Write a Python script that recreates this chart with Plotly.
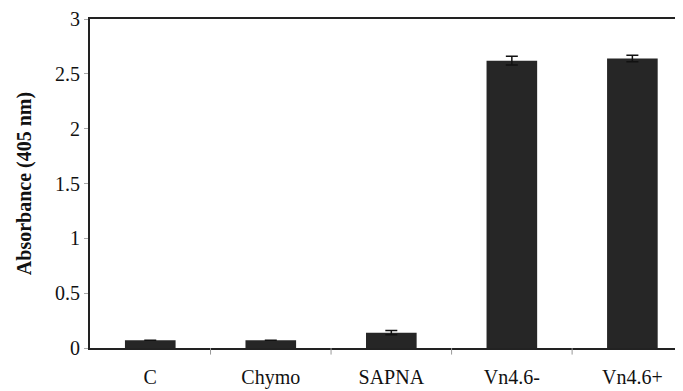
import plotly.graph_objects as go

categories = ["C", "Chymo", "SAPNA", "Vn4.6-", "Vn4.6+"]
values = [0.07, 0.07, 0.14, 2.62, 2.64]
errors = [0.0, 0.0, 0.02, 0.04, 0.03]
y_ticks = [0, 0.5, 1, 1.5, 2, 2.5, 3]
y_tick_labels = ["0", "0.5", "1", "1.5", "2", "2.5", "3"]

fig = go.Figure()
fig.add_trace(go.Bar(
    x=list(range(len(categories))),
    y=values,
    width=0.42,
    marker=dict(color="#262626", line=dict(width=0)),
    error_y=dict(type="data", array=errors, visible=True, color="#111111",
                 thickness=1.5, width=6),
))

font = dict(family="Liberation Serif, Times New Roman, serif", color="#111111")

# page body has an 8px default margin, so the figure is sized to fit the window
fig.update_layout(
    width=675, height=383,
    margin=dict(l=82, r=0, t=11, b=43),
    paper_bgcolor="white", plot_bgcolor="white",
    showlegend=False,
    font=dict(size=20, **font),
    xaxis=dict(
        range=[-0.5, 4.42],
        automargin=False,
        tickmode="array",
        tickvals=list(range(len(categories))),
        ticktext=categories,
        ticks="",
        showline=True, linecolor="#222222", linewidth=2, mirror=True,
        showgrid=False, zeroline=False,
        ticklabelstandoff=10,
        tickfont=dict(size=20, **font),
    ),
    yaxis=dict(
        range=[0, 3],
        automargin=False,
        tickmode="array",
        tickvals=y_ticks,
        ticktext=y_tick_labels,
        ticks="outside", ticklen=4, tickcolor="#aaaaaa",
        showline=True, linecolor="#222222", linewidth=2,
        showgrid=False, zeroline=False,
        tickfont=dict(size=20, **font),
        title=dict(text="<b>Absorbance (405 nm)</b>", font=dict(size=20, **font), standoff=18),
    ),
)

# minor category boundary ticks on x axis
for b in [0.5, 1.5, 2.5, 3.5]:
    fig.add_shape(type="line", xref="x", yref="paper", x0=b, x1=b, y0=0, y1=-0.02,
                  line=dict(color="#999999", width=1))

fig.write_html("out.html")
